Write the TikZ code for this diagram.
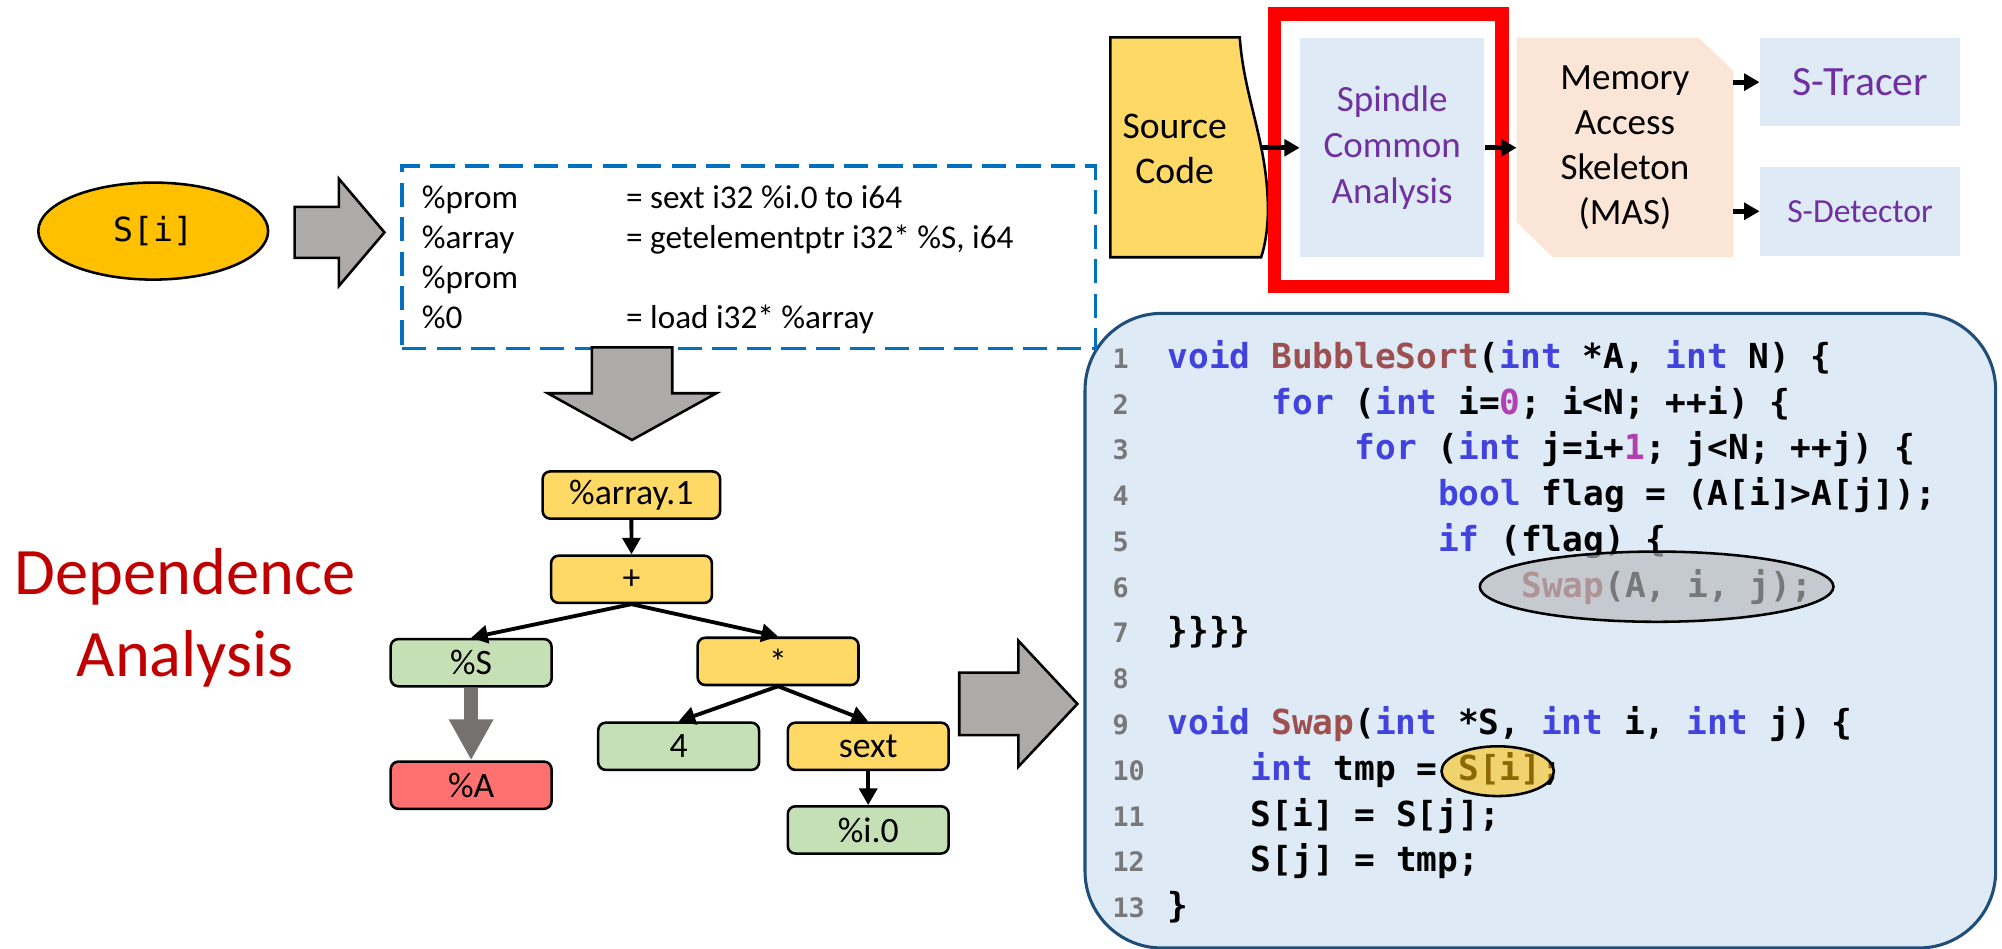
\documentclass[tikz,border=0pt]{standalone}
\usepackage{fontspec}
\setmainfont{Carlito}
\newfontfamily\codefont{DejaVu Sans Mono}
\usetikzlibrary{arrows.meta,shapes.geometric,backgrounds,calc}

\definecolor{srcyellow}{RGB}{255,217,102}
\definecolor{sigold}{RGB}{255,192,0}
\definecolor{paleblue}{RGB}{222,235,247}
\definecolor{deepblue}{RGB}{31,78,121}
\definecolor{irblue}{RGB}{0,112,192}
\definecolor{violet2}{RGB}{112,48,160}
\definecolor{peach}{RGB}{251,229,214}
\definecolor{leaf}{RGB}{197,224,180}
\definecolor{salmon}{RGB}{255,112,112}
\definecolor{blockgray}{RGB}{174,170,170}
\definecolor{darkgray2}{RGB}{118,113,113}
\definecolor{depred}{RGB}{192,0,0}
\definecolor{kwblue}{RGB}{66,66,222}
\definecolor{fnbrown}{RGB}{158,80,80}
\definecolor{nummag}{RGB}{176,64,176}
\definecolor{lngray}{RGB}{120,120,120}
\definecolor{markgray}{RGB}{185,185,188}

\newcommand\ckw[1]{\textcolor{kwblue}{#1}}
\newcommand\cfn[1]{\textcolor{fnbrown}{#1}}
\newcommand\cnum[1]{\textcolor{nummag}{#1}}

\begin{document}
\begin{tikzpicture}[x=0.5pt,y=-0.5pt,
  treebox/.style={draw=black, line width=1pt, rounded corners=3pt,
    minimum width=63pt, minimum height=18.5pt, inner sep=0pt,
    font=\fontsize{14}{16}\selectfont},
  ylw/.style={treebox, fill=srcyellow},
  grn/.style={treebox, fill=leaf},
  rdb/.style={treebox, fill=salmon},
  treearrow/.style={line width=1.5pt, -{Triangle[length=6.5pt,width=7pt]}},
  flowarrow/.style={line width=2pt, -{Triangle[length=6pt,width=6.5pt]}},
  blockarrow/.style={fill=blockgray, draw=black, line width=1pt},
  irtext/.style={anchor=base west, inner sep=0pt, font=\fontsize{13}{15}\selectfont},
  codeline/.style={anchor=base west, inner sep=0pt,
    font=\codefont\bfseries\fontsize{13.5}{16}\selectfont},
  lineno/.style={anchor=base west, inner sep=0pt, text=lngray,
    font=\codefont\bfseries\fontsize{10.5}{12}\selectfont},
  paneltext/.style={align=center, inner sep=0pt},
]
\useasboundingbox (0,0) rectangle (1568,743);

% ---------- pipeline at the top right ----------
\fill[srcyellow, draw=black, line width=1pt]
  (869.7,29.2) -- (971,29.2)
  .. controls (974,75) and (992,110) .. (993,160)
  .. controls (993.5,180) and (990,195) .. (987.7,201.5)
  -- (869.7,201.5) -- cycle;
\node[paneltext, font=\fontsize{14.75}{17.75}\selectfont] (src) at (920,116.5) {Source\\Code};
\coordinate (srcR) at (987.5,115.75);

\node[fill=paleblue, minimum width=72.1pt, minimum height=85.75pt, inner sep=0pt,
      paneltext, text=violet2, font=\fontsize{14.5}{17.9}\selectfont]
  (spindle) at (1090.4,115.75) {Spindle\\Common\\Analysis};

\draw[red, line width=5.25pt] (998.2,11) rectangle (1176.5,224.3);

\node[minimum width=84.5pt, minimum height=85.5pt, inner sep=0pt,
      paneltext, font=\fontsize{14.5}{17.6}\selectfont]
  (mas) at (1272.7,115.5) {Memory\\Access\\Skeleton\\(MAS)};
\begin{scope}[on background layer]
  \fill[peach] (mas.north west) -- ($(mas.north east)+(-27,0)$)
    -- ($(mas.north east)+(0,26)$) -- (mas.south east)
    -- ($(mas.south west)+(28.4,0)$) -- ($(mas.south west)+(0,-27.4)$) -- cycle;
\end{scope}

\node[fill=paleblue, minimum width=78.35pt, minimum height=34.35pt, inner sep=0pt,
      text=violet2, font=\fontsize{16.3}{19}\selectfont]
  (tracer) at (1456.85,64.35) {S-Tracer};
\node[fill=paleblue, minimum width=78.35pt, minimum height=35pt, inner sep=0pt,
      text=violet2, font=\fontsize{13.2}{16}\selectfont]
  (detector) at (1456.85,165.5) {S-Detector};

\draw[flowarrow] (srcR) -- (spindle.west);
\draw[flowarrow] (spindle.east) -- (mas.west |- spindle.east);
\draw[flowarrow] (mas.east |- tracer.west) -- (tracer.west);
\draw[flowarrow] (mas.east |- detector.west) -- (detector.west);

% ---------- source expression and its IR ----------
\node[ellipse, draw=black, line width=1pt, fill=sigold, minimum width=90pt,
      minimum height=38pt, inner sep=0pt, font=\codefont\fontsize{13}{15}\selectfont]
  (si) at (120,181) {S[i]};

\draw[blockarrow] (230.8,162) -- (265.4,162) -- (265.4,140) -- (301.1,182)
  -- (265.4,224) -- (265.4,202) -- (230.8,202) -- cycle;

% code panel
\node[draw=deepblue, line width=1.2pt, fill=paleblue, rounded corners=30pt,
      minimum width=356.6pt, minimum height=248.5pt, inner sep=0pt]
  (codebox) at (1206.4,493.95) {};

\node[draw=irblue, dashed, dash pattern=on 9.5pt off 4pt, line width=1.5pt,
      minimum width=271.5pt, minimum height=71.5pt, inner sep=0pt]
  (irbox) at (586.5,201.5) {};
\node[irtext] (ir1a) at (330,163.5) {\%prom};
\node[irtext] (ir1b) at (490,163.5) {= sext i32 \%i.0 to i64};
\node[irtext] (ir2a) at (330,194.8) {\%array};
\node[irtext] (ir2b) at (490,194.8) {= getelementptr i32* \%S, i64};
\node[irtext] (ir3a) at (330,226.1) {\%prom};
\node[irtext] (ir4a) at (330,257.4) {\%0};
\node[irtext] (ir4b) at (490,257.4) {= load i32* \%array};

\draw[blockarrow] (463.5,272) -- (526.5,272) -- (526.5,308) -- (561,308)
  -- (495,344.6) -- (429,308) -- (463.5,308) -- cycle;

% ---------- dependence tree ----------
\node[ylw, minimum width=69.5pt] (arr) at (494.5,387.7) {\%array.1};
\node[ylw] (plus) at (494.6,453.7) {+};
\node[grn] (nS) at (369,519) {\%S};
\node[ylw] (star) at (609.4,518) {*};
\node[rdb] (nA) at (369,615) {\%A};
\node[grn] (four) at (531.5,584.5) {4};
\node[ylw] (sext) at (680,584.5) {sext};
\node[grn] (i0) at (680,650) {\%i.0};

\draw[treearrow] (arr.south) -- (plus.north);
\draw[treearrow] (plus.south) -- (nS.north);
\draw[treearrow] (plus.south) -- (star.north);
\draw[treearrow] (star.south) -- (four.north);
\draw[treearrow] (star.south) -- (sext.north);
\draw[treearrow] (sext.south) -- (i0.north);
\draw[darkgray2, line width=5.4pt, -{Triangle[length=16pt,width=16.3pt]}]
  (nS.south) -- (nA.north);

\node[text=depred, font=\fontsize{26}{32}\selectfont, anchor=base, inner sep=0pt]
  (dep1) at (145,466) {Dependence};
\node[text=depred, font=\fontsize{26}{32}\selectfont, anchor=base, inner sep=0pt]
  (dep2) at (145,530) {Analysis};

\draw[blockarrow] (751.3,526.8) -- (797.6,526.8) -- (797.6,501.8) -- (843.8,551.3)
  -- (797.6,600.5) -- (797.6,575.7) -- (751.3,575.7) -- cycle;

% ---------- code listing ----------
\foreach \k in {1,...,13}
  \node[lineno] (ln\k) at (871,{288.5+(\k-1)*35.85}) {\k};

\node[codeline] (c1) at (914,288.5)
  {\ckw{void} \cfn{BubbleSort}(\ckw{int} *A, \ckw{int} N) \{};
\node[codeline] (c2) at (995.5,324.35)
  {\ckw{for} (\ckw{int} i=\cnum{0}; i<N; ++i) \{};
\node[codeline] (c3) at (1060.7,360.2)
  {\ckw{for} (\ckw{int} j=i+\cnum{1}; j<N; ++j) \{};
\node[codeline] (c4) at (1125.9,396.05)
  {\ckw{bool} flag = (A[i]>A[j]);};
\node[codeline] (c5) at (1125.9,431.9)
  {\ckw{if} (flag) \{};
\node[codeline] (c6) at (1191.1,467.75)
  {\cfn{Swap}(A, i, j);};
\node[codeline] (c7) at (914,503.6) {\}\}\}\}};
\node[codeline] (c9) at (914,575.3)
  {\ckw{void} \cfn{Swap}(\ckw{int} *S, \ckw{int} i, \ckw{int} j) \{};
\node[codeline] (c10) at (979.2,611.15) {\ckw{int} tmp = S[i];};
\node[codeline] (c11) at (979.2,647) {S[i] = S[j];};
\node[codeline] (c12) at (979.2,682.85) {S[j] = tmp;};
\node[codeline] (c13) at (914,718.7) {\}};

% highlighted call and access
\node[ellipse, draw=black, line width=1pt, fill=markgray, fill opacity=0.65,
      minimum width=138.5pt, minimum height=27.5pt, inner sep=0pt]
  (swapmark) at (1297.5,459.5) {};
\node[ellipse, draw=black, line width=1pt, fill=sigold, fill opacity=0.55,
      minimum width=44pt, minimum height=19.5pt, inner sep=0pt]
  (simark) at (1173,604) {};
\end{tikzpicture}
\end{document}
